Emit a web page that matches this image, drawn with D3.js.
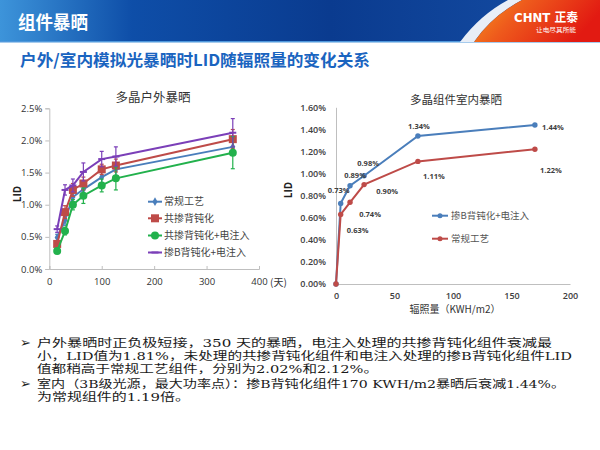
<!DOCTYPE html>
<html><head><meta charset="utf-8">
<script src="https://cdn.jsdelivr.net/npm/d3@7"></script>
<style>
html,body{margin:0;padding:0;background:#fff;}
svg{display:block;}
</style></head>
<body>
<svg id="c" width="600" height="450"></svg>
<script>
// ---------- DATA ----------
const outdoorDays = [15, 30, 45, 65, 100, 127, 350];
const outdoorSeries = ["常规工艺", "共掺背钝化", "共掺背钝化+电注入", "掺B背钝化+电注入"];
const outdoorConventional = [0.49, 0.76, 1.12, 1.24, 1.43, 1.55, 1.90];
const outdoorCoDoped = [0.39, 0.885, 1.23, 1.33, 1.55, 1.61, 2.02];
const outdoorCoDopedInj = [0.28, 0.59, 1.00, 1.14, 1.30, 1.41, 1.81];
const outdoorBDopedInj = [0.62, 1.23, 1.30, 1.51, 1.71, 1.75, 2.12];
const errConventional = [0.05, 0.08, 0.08, 0.08, 0.10, 0.10, 0.12];
const errCoDoped = [0.05, 0.10, 0.10, 0.10, 0.08, 0.10, 0.15];
const errCoDopedInj = [0.04, 0.06, 0.08, 0.12, 0.10, 0.18, 0.25];
const errBDopedInj = [0.05, 0.08, 0.10, 0.14, 0.12, 0.15, 0.22];
const outdoorYTicks = [0, 0.5, 1.0, 1.5, 2.0, 2.5];
const outdoorXTicks = [0, 100, 200, 300, 400];

const indoorDose = [0, 4, 12, 24, 70, 170];
const indoorSeries = ["掺B背钝化+电注入", "常规工艺"];
const indoorBDopedInj = [0, 0.73, 0.89, 0.98, 1.34, 1.44];
const indoorConventional = [0, 0.63, 0.74, 0.90, 1.11, 1.22];
const indoorYTicks = [0, 0.2, 0.4, 0.6, 0.8, 1.0, 1.2, 1.4, 1.6];
const indoorXTicks = [0, 50, 100, 150, 200];

const bulletLines = [
  ["户外暴晒时正负极短接，350 天的暴晒，电注入处理的共掺背钝化组件衰减最",
   "小，LID值为1.81%，未处理的共掺背钝化组件和电注入处理的掺B背钝化组件LID",
   "值都稍高于常规工艺组件，分别为2.02%和2.12%。"],
  ["室内（3B级光源，最大功率点）：掺B背钝化组件170 KWH/m2暴晒后衰减1.44%。",
   "为常规组件的1.19倍。"]
];

// ---------- LAYOUT / STYLE ----------
const svg = d3.select("#c");
const CJK = "'Noto Sans CJK SC', sans-serif";
const SERIFISH = "'DejaVu Serif', 'Noto Sans CJK SC', serif";
const AX = "#bfbfbf";
const defs = svg.append("defs");

// header
const hg = defs.append("linearGradient").attr("id","hg").attr("x1","0").attr("x2","1").attr("y1","0").attr("y2","0");
[[0,"#3d94da"],[0.22,"#0e4ea8"],[0.55,"#0a3b8f"],[0.85,"#12489e"],[1,"#1a5cb0"]].forEach(s=>hg.append("stop").attr("offset",s[0]).attr("stop-color",s[1]));
svg.append("rect").attr("x",0).attr("y",0).attr("width",600).attr("height",42).attr("fill","url(#hg)");
svg.append("rect").attr("x",0).attr("y",41).attr("width",600).attr("height",1.5).attr("fill","#4f98dc");
const rg = defs.append("linearGradient").attr("id","rg").attr("x1","0").attr("x2","1").attr("y1","0").attr("y2","0.3");
[[0,"#f7931e"],[0.4,"#ee5a1c"],[1,"#e21a12"]].forEach(s=>rg.append("stop").attr("offset",s[0]).attr("stop-color",s[1]));
svg.append("path").attr("d","M508 0 L522 0 Q492 16 474 42 L460 42 Q480 15 508 0 Z").attr("fill","#e8eef7");
svg.append("path").attr("d","M522 0 L600 0 L600 42 L474 42 Q492 16 522 0 Z").attr("fill","url(#rg)");
svg.append("text").attr("x",514).attr("y",22).attr("fill","#fff").attr("font-family","'DejaVu Sans', "+CJK)
  .attr("font-weight","bold").attr("font-size",12).attr("textLength",64).attr("lengthAdjust","spacingAndGlyphs").text("CHNT 正泰");
svg.append("text").attr("x",536).attr("y",32).attr("fill","#fff").attr("font-family",CJK)
  .attr("font-size",6).attr("textLength",40).attr("lengthAdjust","spacingAndGlyphs").text("让电尽其所能");
svg.append("text").attr("x",18).attr("y",29).attr("fill","#fff").attr("font-family",CJK)
  .attr("font-weight","bold").attr("font-size",18).attr("textLength",70).attr("lengthAdjust","spacingAndGlyphs").text("组件暴晒");
svg.append("text").attr("x",20).attr("y",66).attr("fill","#1a64c0").attr("font-family",CJK)
  .attr("font-weight","bold").attr("font-size",16).attr("textLength",350).attr("lengthAdjust","spacingAndGlyphs")
  .text("户外/室内模拟光暴晒时LID随辐照量的变化关系");

// ---------- LEFT CHART ----------
const xL = d3.scaleLinear().domain([0,400]).range([49.3,259]);
const yL = d3.scaleLinear().domain([0,2.5]).range([269,108.3]);
const gL = svg.append("g");
gL.append("text").attr("x",153).attr("y",102).attr("text-anchor","middle").attr("font-family",CJK)
  .attr("font-size",12.5).attr("fill","#333").text("多晶户外暴晒");
const axL = gL.append("g").attr("transform","translate(49.3,0)")
  .call(d3.axisLeft(yL).tickValues(outdoorYTicks).tickSize(4).tickFormat(d=>d.toFixed(1)+"%"));
const axB = gL.append("g").attr("transform","translate(0,269)")
  .call(d3.axisBottom(xL).tickValues(outdoorXTicks).tickSize(-3).tickPadding(9).tickFormat(d3.format("d")));
[axL,axB].forEach(a=>{a.select(".domain").attr("stroke",AX);a.selectAll(".tick line").attr("stroke",AX);
  a.selectAll("text").attr("font-family","'Open Sans', sans-serif").attr("font-size",9.5).attr("fill","#333");});
gL.append("text").attr("x",270).attr("y",286).attr("font-family",CJK).attr("font-size",10).attr("fill","#333").text("(天)");
gL.append("text").attr("transform","translate(21,194) rotate(-90)").attr("text-anchor","middle")
  .attr("font-family","'Open Sans', sans-serif").attr("font-weight","bold").attr("font-size",10).attr("fill","#222").text("LID");

const outdoor = [
  {name:outdoorSeries[0], v:outdoorConventional, e:errConventional, color:"#4a7ebb", marker:"diamond"},
  {name:outdoorSeries[1], v:outdoorCoDoped, e:errCoDoped, color:"#be4b48", marker:"square"},
  {name:outdoorSeries[2], v:outdoorCoDopedInj, e:errCoDopedInj, color:"#22b14c", marker:"circle"},
  {name:outdoorSeries[3], v:outdoorBDopedInj, e:errBDopedInj, color:"#7b3fb8", marker:"dash"}
];
function drawMarker(g, type, color, x, y){
  if(type==="diamond") g.append("path").attr("d",d3.symbol(d3.symbolDiamond,22)()).attr("transform",`translate(${x},${y})`).attr("fill",color);
  else if(type==="square") g.append("rect").attr("x",x-4).attr("y",y-4).attr("width",8).attr("height",8).attr("fill",color);
  else if(type==="circle") g.append("circle").attr("cx",x).attr("cy",y).attr("r",4).attr("fill",color);
  else if(type==="dash") g.append("line").attr("x1",x-3.5).attr("x2",x+3.5).attr("y1",y).attr("y2",y).attr("stroke",color).attr("stroke-width",2);
}
const lineL = d3.line().x((d,i)=>xL(outdoorDays[i])).y(d=>yL(d));
outdoor.forEach(s=>{
  const g = gL.append("g");
  g.append("path").attr("d",lineL(s.v)).attr("fill","none").attr("stroke",s.color).attr("stroke-width",2);
  s.v.forEach((v,i)=>{
    const x = xL(outdoorDays[i]), y1 = yL(v+s.e[i]), y2 = yL(v-s.e[i]);
    g.append("line").attr("x1",x).attr("x2",x).attr("y1",y1).attr("y2",y2).attr("stroke",s.color).attr("stroke-width",1.2);
    [y1,y2].forEach(yy=>g.append("line").attr("x1",x-2).attr("x2",x+2).attr("y1",yy).attr("y2",yy).attr("stroke",s.color).attr("stroke-width",1.2));
  });
  s.v.forEach((v,i)=>drawMarker(g, s.marker, s.color, xL(outdoorDays[i]), yL(v)));
});
// legend left
const legRowsL = [201.7, 218.3, 235.5, 252.5];
outdoor.forEach((s,i)=>{
  const y = legRowsL[i];
  gL.append("line").attr("x1",148).attr("x2",162).attr("y1",y).attr("y2",y).attr("stroke",s.color).attr("stroke-width",2);
  drawMarker(gL, s.marker, s.color, 155, y);
  gL.append("text").attr("x",164).attr("y",y+3.5).attr("font-family",CJK).attr("font-size",10).attr("fill","#444").text(s.name);
});

// ---------- RIGHT CHART ----------
const xR = d3.scaleLinear().domain([0,200]).range([336,570]);
const yR = d3.scaleLinear().domain([0,1.6]).range([284,107.3]);
const gR = svg.append("g");
gR.append("text").attr("x",456).attr("y",104).attr("text-anchor","middle").attr("font-family",CJK)
  .attr("font-size",11.5).attr("fill","#333").text("多晶组件室内暴晒");
const axR = gR.append("g").attr("transform","translate(336,0)")
  .call(d3.axisLeft(yR).tickValues(indoorYTicks).tickSize(0).tickPadding(10).tickFormat(d=>d.toFixed(2)+"%"));
const axRB = gR.append("g").attr("transform","translate(0,284)")
  .call(d3.axisBottom(xR).tickValues(indoorXTicks).tickSize(0).tickPadding(9).tickFormat(d3.format("d")));
[axR,axRB].forEach(a=>{a.select(".domain").attr("stroke",AX);
  a.selectAll("text").attr("font-family","'Open Sans', sans-serif").attr("font-size",9).attr("font-weight","600").attr("fill","#404040");});
gR.append("text").attr("transform","translate(292,190) rotate(-90)").attr("text-anchor","middle")
  .attr("font-family","'Open Sans', sans-serif").attr("font-weight","bold").attr("font-size",10).attr("fill","#222").text("LID");
gR.append("text").attr("x",455).attr("y",313).attr("text-anchor","middle").attr("font-family",CJK)
  .attr("font-size",10).attr("fill","#333").text("辐照量（KWH/m2）");

const indoor = [
  {name:indoorSeries[0], v:indoorBDopedInj, color:"#4a7ebb"},
  {name:indoorSeries[1], v:indoorConventional, color:"#be4b48"}
];
// label offsets (layout only)
const labelOffsets = [
  [null,[-2,-13],[5,-11],[4,-13],[1,-10],[18,2]],
  [null,[17,16],[20,12],[23,6],[16,15],[16,21]]
];
const lineR = d3.line().x((d,i)=>xR(indoorDose[i])).y(d=>yR(d));
indoor.forEach((s,si)=>{
  const g = gR.append("g");
  g.append("path").attr("d",lineR(s.v)).attr("fill","none").attr("stroke",s.color).attr("stroke-width",2);
  s.v.forEach((v,i)=>g.append("circle").attr("cx",xR(indoorDose[i])).attr("cy",yR(v)).attr("r",2.7).attr("fill",s.color));
});
indoor.forEach((s,si)=>{
  s.v.forEach((v,i)=>{
    const o = labelOffsets[si][i]; if(!o) return;
    gR.append("text").attr("x",xR(indoorDose[i])+o[0]).attr("y",yR(v)+o[1]+3).attr("text-anchor","middle")
      .attr("font-family","'Open Sans', sans-serif").attr("font-weight","bold").attr("font-size",7.5).attr("fill","#404040")
      .text(v.toFixed(2)+"%");
  });
});
// legend right
[215.7, 238.7].forEach((y,i)=>{
  const s = indoor[i];
  gR.append("line").attr("x1",432).attr("x2",448).attr("y1",y).attr("y2",y).attr("stroke",s.color).attr("stroke-width",2);
  gR.append("circle").attr("cx",440).attr("cy",y).attr("r",2.5).attr("fill",s.color);
  gR.append("text").attr("x",451).attr("y",y+3.5).attr("font-family",CJK).attr("font-size",9.5).attr("fill","#555").text(s.name);
});

// ---------- BULLET TEXT ----------
const lineYs = [[347,360,373],[388,401]];
const lineWidths = [[515,535,341],[528,153]];
bulletLines.forEach((group,gi)=>{
  svg.append("text").attr("x",20).attr("y",lineYs[gi][0]).attr("font-family","'DejaVu Sans', sans-serif")
    .attr("font-size",13).attr("fill","#222").text("➢");
  group.forEach((t,li)=>{
    svg.append("text").attr("x",37).attr("y",lineYs[gi][li]).attr("font-family",SERIFISH)
      .attr("font-size",11).attr("fill","#1a1a1a").attr("textLength",lineWidths[gi][li]).attr("lengthAdjust","spacingAndGlyphs").text(t);
  });
});
</script>
</body></html>
